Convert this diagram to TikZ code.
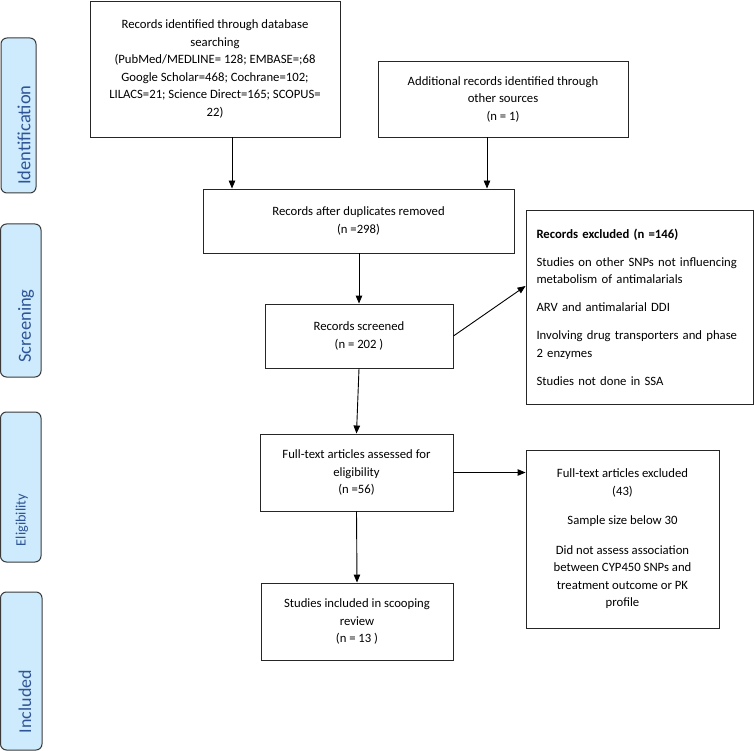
\documentclass[tikz,border=0pt]{standalone}
\usepackage{fontspec}
\setmainfont{Carlito}
\usetikzlibrary{arrows.meta,calc}
\definecolor{phasefill}{HTML}{CDEBFD}
\definecolor{phasetext}{HTML}{2F5496}
\definecolor{phaseline}{HTML}{3A3A3A}
\begin{document}
\begin{tikzpicture}[x=1pt,y=-1pt,
  box/.style={draw=black!85,line width=0.9pt,align=center,inner sep=0pt,
    font=\fontsize{12.7}{17.5}\selectfont},
  exclbox/.style={draw=black!85,line width=0.9pt,align=left,inner sep=0pt,
    font=\fontsize{12.7}{17.5}\selectfont},
  phasebox/.style={draw=phaseline,fill=phasefill,line width=1pt,rounded corners=6pt,inner sep=0pt},
  phaselabel/.style={rotate=90,text=phasetext,inner sep=0pt},
  arr/.style={line width=0.9pt,-{Triangle[length=8pt,width=6.5pt]}}
]
\useasboundingbox (0,0) rectangle (754,751);

% phase labels
\node[phasebox,minimum width=35pt,minimum height=155pt] (pid) at (18.5,115.5) {};
\node[phaselabel,font=\fontsize{18.5}{20}\selectfont] (pidt) at (24,135) {Identification};
\node[phasebox,minimum width=40.5pt,minimum height=153pt] (psc) at (20.75,300.5) {};
\node[phaselabel,font=\fontsize{18.5}{20}\selectfont] (psct) at (26,326) {Screening};
\node[phasebox,minimum width=40.5pt,minimum height=150pt] (pel) at (20.75,487) {};
\node[phaselabel,font=\fontsize{14.3}{16}\selectfont] (pelt) at (22,520) {Eligibility};
\node[phasebox,minimum width=41.5pt,minimum height=158pt] (pin) at (21.25,671) {};
\node[phaselabel,font=\fontsize{18}{20}\selectfont] (pint) at (25,701.5) {Included};

% main boxes
\node[box,minimum width=250pt,minimum height=136pt] (db) at (215,69)
  {Records identified through database\\ searching\\ (PubMed/MEDLINE= 128; EMBASE=;68\\ Google Scholar=468; Cochrane=102;\\ LILACS=21; Science Direct=165; SCOPUS=\\ 22)};
\node[box,minimum width=250pt,minimum height=76pt] (add) at (503,99)
  {Additional records identified through\\ other sources\\ (n = 1)};
\node[box,minimum width=311pt,minimum height=64pt] (dup) at (358.5,221)
  {Records after duplicates removed\\ (n =298)};
\node[box,minimum width=188pt,minimum height=64pt] (scr) at (359,336)
  {Records screened\\ (n = 202 )};
\node[box,minimum width=193pt,minimum height=77pt] (full) at (356.5,472.5)
  {Full-text articles assessed for\\ eligibility\\ (n =56)};
\node[box,minimum width=192pt,minimum height=77pt] (inc) at (357,621.5)
  {Studies included in scooping\\ review\\ (n = 13 )};

% exclusion boxes
\node[exclbox,minimum width=227pt,minimum height=194pt,text width=206pt] (ex1) at (639.5,307)
  {\textbf{Records excluded (n =146)}\\[10.5pt]
   Studies on other SNPs not influencing\\ metabolism of antimalarials\\[10.5pt]
   ARV and antimalarial DDI\\[10.5pt]
   Involving drug transporters and phase\\ 2 enzymes\\[10.5pt]
   Studies not done in SSA};
\node[box,minimum width=193pt,minimum height=178pt] (ex2) at (622.5,539)
  {Full-text articles excluded\\ (43)\\[12pt]
   Sample size below 30\\[12pt]
   Did not assess association\\ between CYP450 SNPs and\\ treatment outcome or PK\\ profile};

% connectors
\draw[arr] ([xshift=17pt]db.south) -- ([xshift=17pt]db.south |- dup.north);
\draw[arr] ([xshift=-16pt]add.south) -- ([xshift=-16pt]add.south |- dup.north);
\draw[arr] (scr.north |- dup.south) -- (scr.north);
\draw[arr] (scr.south) -- (full.north);
\draw[arr] (full.south) -- (inc.north);
\draw[arr] (scr.east) -- ([yshift=21pt]ex1.west);
\draw[arr] (full.east) -- (full.east -| ex2.west);
\end{tikzpicture}
\end{document}
